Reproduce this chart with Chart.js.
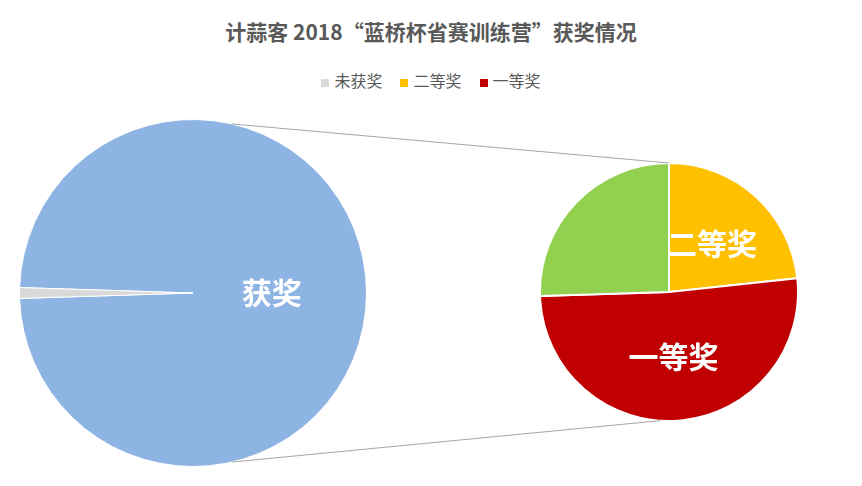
<!DOCTYPE html>
<html><head><meta charset="utf-8">
<script src="https://cdn.jsdelivr.net/npm/chart.js@4/dist/chart.umd.min.js"></script>
<style>
body{margin:0;background:#fff;font-family:"Noto Sans CJK SC",sans-serif;}
#wrap{position:relative;width:862px;height:486px;}
#title{position:absolute;top:16px;width:100%;text-align:center;font-size:21px;font-weight:bold;color:#595959;}
#legend{position:absolute;top:68px;width:100%;text-align:center;font-size:16px;color:#595959;}
#legend span{margin:0 9px;}
#legend i{display:inline-block;width:8px;height:8px;margin-right:5px;vertical-align:middle;}
.pie{position:absolute;}
#overlay{position:absolute;left:0;top:0;pointer-events:none;}
</style></head><body>
<div id="wrap">
<div id="title">计蒜客 2018“蓝桥杯省赛训练营”获奖情况</div>
<div id="legend"></div>
<div class="pie" style="left:19px;top:119px;width:348px;height:348px"><canvas id="left"></canvas></div>
<div class="pie" style="left:539px;top:162px;width:260px;height:260px"><canvas id="right"></canvas></div>
<canvas id="overlay" width="862" height="486"></canvas>
</div>
<script>
const mainLabels = ['获奖', '未获奖'];
const mainValues = [99, 1];
const mainColors = ['#8EB4E3', '#D9D9D9'];
const subLabels = ['二等奖', '一等奖', ''];
const subValues = [23.3, 51.2, 25.5];
const subColors = ['#FFC000', '#C00000', '#92D050'];
const legendItems = [['未获奖', '#D9D9D9'], ['二等奖', '#FFC000'], ['一等奖', '#C00000']];

document.getElementById('legend').innerHTML = legendItems
  .map(l => `<span><i style="background:${l[1]}"></i>${l[0]}</span>`).join('');

const labelPlugin = {
  id: 'sliceLabels',
  afterDatasetsDraw(chart, args, opts) {
    const ctx = chart.ctx;
    const meta = chart.getDatasetMeta(0);
    ctx.save();
    ctx.fillStyle = '#fff';
    ctx.font = 'bold 30px "Noto Sans CJK SC"';
    ctx.textAlign = 'center';
    ctx.textBaseline = 'middle';
    opts.show.forEach(i => {
      const p = meta.data[i].tooltipPosition();
      ctx.fillText(chart.data.labels[i], p.x + (opts.dx || 0), p.y);
    });
    ctx.restore();
  }
};

function pie(id, labels, values, colors, rotation, show, dx, border) {
  return new Chart(document.getElementById(id), {
    type: 'pie',
    data: { labels, datasets: [{ data: values, backgroundColor: colors, borderColor: '#fff', borderWidth: border }] },
    options: {
      responsive: true, maintainAspectRatio: false, animation: false, rotation,
      plugins: { legend: { display: false }, tooltip: { enabled: false }, sliceLabels: { show, dx } }
    },
    plugins: [labelPlugin]
  });
}

const sumMain = mainValues.reduce((a, b) => a + b, 0);
const rot = 270 - (mainValues[0] + mainValues[1] / 2) / sumMain * 360;
const left = pie('left', mainLabels, mainValues, mainColors, rot, [0], -8, 1);
const right = pie('right', subLabels, subValues, subColors, 0, [0, 1], 0, 2);

// connector lines between the two pies
const o = document.getElementById('overlay').getContext('2d');
function pt(chart, off, deg) {
  const a = chart.getDatasetMeta(0).data[0];
  const r = a.outerRadius, t = (deg - 90) * Math.PI / 180;
  return [off[0] + a.x + r * Math.cos(t), off[1] + a.y + r * Math.sin(t)];
}
const lt = pt(left, [19, 119], 13), lb = pt(left, [19, 119], 167);
const rt = pt(right, [539, 162], 0), rb = pt(right, [539, 162], 184);
o.strokeStyle = '#A6A6A6';
o.lineWidth = 1;
o.beginPath();
o.moveTo(lt[0], lt[1]); o.lineTo(rt[0], rt[1]);
o.moveTo(lb[0], lb[1]); o.lineTo(rb[0], rb[1]);
o.stroke();
</script>
</body></html>
